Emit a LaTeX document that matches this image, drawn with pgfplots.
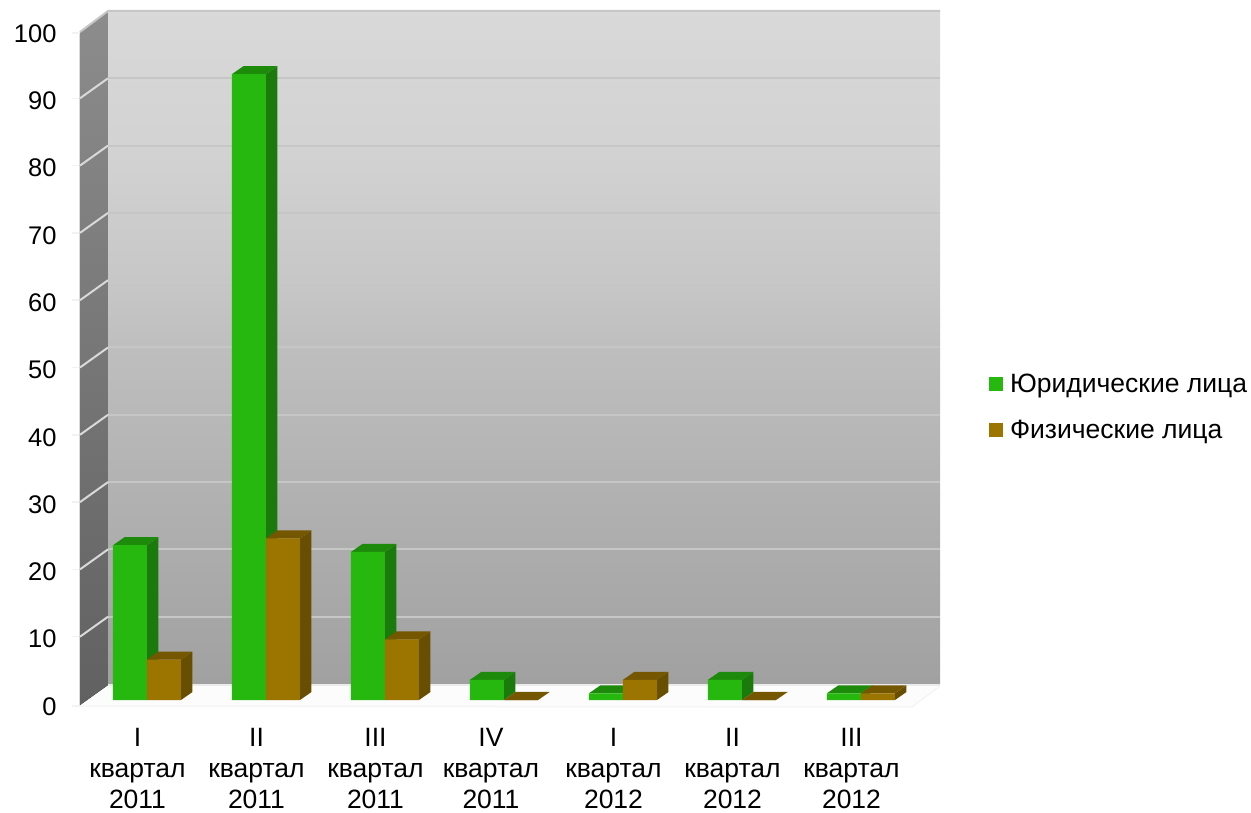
\documentclass[border=0pt]{standalone}
\usepackage{fontspec}
\setmainfont{Liberation Sans}
\usepackage{pgfplots}
\usepackage{pgfplotstable}
\pgfplotsset{compat=1.18}
\definecolor{c_ul}{RGB}{38,184,14}
\definecolor{c_ul_top}{RGB}{30,138,12}
\definecolor{c_ul_side}{RGB}{26,122,12}
\definecolor{c_fl}{RGB}{156,116,0}
\definecolor{c_fl_top}{RGB}{116,87,0}
\definecolor{c_fl_side}{RGB}{104,78,0}
\definecolor{c_grid}{RGB}{198,198,198}

% back wall: stays light in the upper part
\pgfdeclareverticalshading{backwall}{100bp}{
  color(0bp)=(black!37);
  color(25bp)=(black!37);
  color(49.85bp)=(black!25.5);
  color(55bp)=(black!22);
  color(64.7bp)=(black!17.5);
  color(75bp)=(black!15);
  color(100bp)=(black!15)
}

% quarter, legal entities, individuals
\pgfplotstableread{
q ul fl
0 23 6
1 93 24
2 22 9
3 3 0
4 1 3
5 3 0
6 1 1
}\datatable

% 3d faces of one bar: #1 row, #2 column, #3 left edge offset, #4 top colour, #5 side colour
\newcommand{\barfaces}[5]{%
  \pgfplotstablegetelem{#1}{#2}\of\datatable
  \pgfmathsetmacro{\va}{\pgfplotsretval}
  \pgfmathsetmacro{\vb}{\va+1.19}
  \pgfmathsetmacro{\xa}{#1+#3}
  \pgfmathsetmacro{\xb}{\xa+0.0966}
  \pgfmathsetmacro{\xc}{\xa+0.2857}
  \pgfmathsetmacro{\xd}{\xc+0.0966}
  \addplot[fill=#5, draw=none, forget plot] coordinates {(\xc,0) (\xd,1.19) (\xd,\vb) (\xc,\va)} -- cycle;
  \addplot[fill=#4, draw=none, forget plot] coordinates {(\xa,\va) (\xb,\vb) (\xd,\vb) (\xc,\va)} -- cycle;
}

\begin{document}
\begin{tikzpicture}
\path[use as bounding box] (0,0) rectangle (1251pt,812pt);

% walls and floor, in pixels of the picture
\begin{scope}[x=1pt, y=-1pt, yshift=812pt]
  \fill[white!99!black] (80,705) -- (108,685) -- (940,685) -- (912,707) -- cycle;
  \draw[white!96!black, line width=1.5pt] (80,706) -- (912,707) -- (940,686);
  \fill[top color=black!45, bottom color=black!62] (80,32) -- (108,11) -- (108,685) -- (80,705) -- cycle;
  \shade[shading=backwall] (108,11) rectangle (940,685);
  \foreach \k in {1,...,9} {
    \pgfmathsetmacro{\yy}{684-67.3*\k}
    \draw[c_grid, line width=2pt] (108,\yy) -- (940,\yy);
    \draw[white!85!black, line width=2pt] (80,\yy+20) -- (108,\yy);
    \draw[white!95!black, line width=1.5pt] (72,\yy+20) -- (80,\yy+20);
  }
  \draw[white!85!black, line width=1.2pt] (79.5,32) -- (79.5,705);
  \draw[c_grid, line width=2pt] (80,32) -- (108,11) -- (940,11);
  \draw[white!95!black, line width=1.5pt] (72,33) -- (80,33) (72,706) -- (80,706);
  \draw[white!92!black, line width=2pt] (108,685) -- (940,685);
\end{scope}

\begin{axis}[
    at={(80pt,107pt)},
    anchor=south west,
    scale only axis,
    width=860pt,
    height=694pt,
    xmin=-0.563,
    xmax=6.664,
    ymin=-0.743,
    ymax=102.38,
    clip=false,
    axis line style={draw=none},
    tick style={draw=none},
    major tick length=0pt,
    xtick={0,...,6},
    xticklabels={
        {I\\квартал\\2011},
        {II\\квартал\\2011},
        {III\\квартал\\2011},
        {\hspace*{-7pt}IV\\\hspace*{-7pt}квартал\\\hspace*{-7pt}2011},
        {I\\квартал\\2012},
        {II\\квартал\\2012},
        {III\\квартал\\2012}
    },
    xticklabel style={align=center, font=\fontsize{26.5}{31}\selectfont, xshift=-9.5pt, yshift=-20pt},
    ytick={0,10,...,100},
    yticklabel style={font=\fontsize{25.5}{28}\selectfont, yshift=-6.5pt, xshift=-20pt},
    /pgf/number format/assume math mode=true,
    legend style={
        at={(1.057,0.4800)},
        anchor=north west,
        draw=none,
        fill=none,
        inner sep=0pt,
        outer sep=0pt,
        font=\fontsize{26.5}{30}\selectfont,
        cells={anchor=west},
        /tikz/row sep=22pt,
        /tikz/column sep=0pt,
    },
]

\pgfplotsinvokeforeach{0,...,6}{\barfaces{#1}{ul}{-0.2857}{c_ul_top}{c_ul_side}}
\addplot[ybar, bar width=34pt, bar shift=-17pt, fill=c_ul, draw=none,
    legend image code/.code={\fill[c_ul] (0pt,-7pt) rectangle (14pt,7pt); \path (19pt,0pt);}]
    table[x=q, y=ul] {\datatable};

\pgfplotsinvokeforeach{0,...,6}{\barfaces{#1}{fl}{0}{c_fl_top}{c_fl_side}}
\addplot[ybar, bar width=34pt, bar shift=17pt, fill=c_fl, draw=none,
    legend image code/.code={\fill[c_fl] (0pt,-7pt) rectangle (14pt,7pt); \path (19pt,0pt);}]
    table[x=q, y=fl] {\datatable};

\legend{Юридические лица, Физические лица}
\end{axis}
\end{tikzpicture}
\end{document}
